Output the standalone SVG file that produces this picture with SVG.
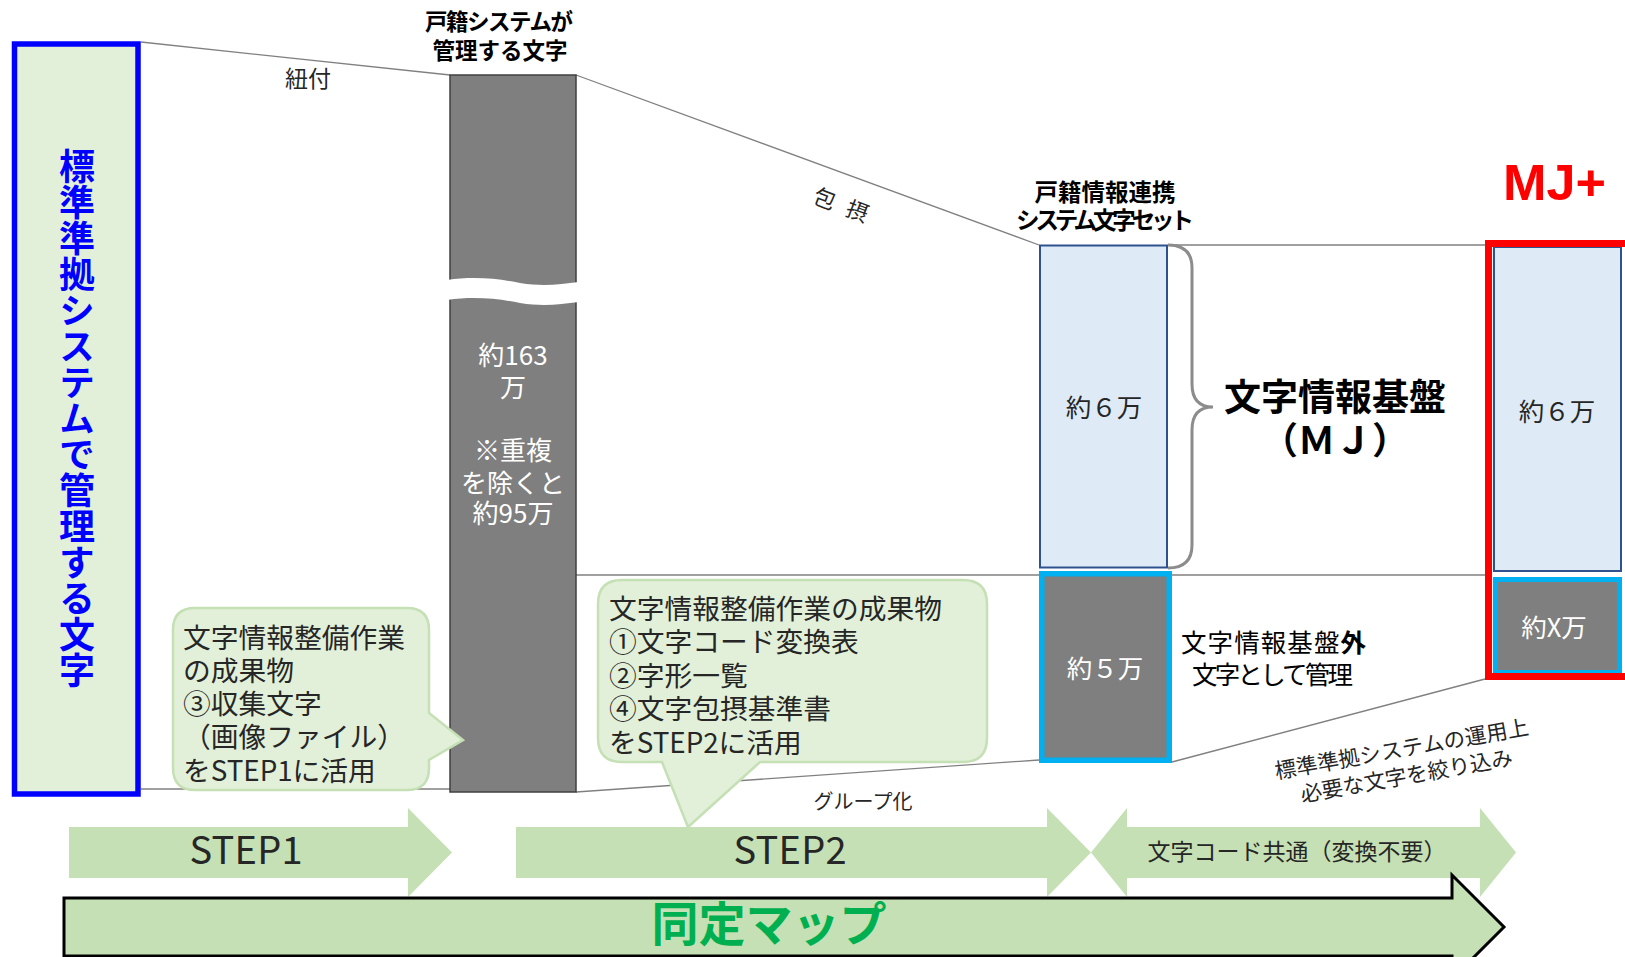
<svg xmlns="http://www.w3.org/2000/svg" width="1625" height="957" viewBox="0 0 1625 957">
<defs>
<style>
text{font-family:"Noto Sans CJK JP","Noto Sans",sans-serif;fill:#262626}
.ln{stroke:#808080;stroke-width:1.3;fill:none}
.call{fill:#E2F0D9;stroke:#C5E0B4;stroke-width:2.5}
.arr{fill:#C5E0B4}
.lb{fill:#DEEBF7;stroke:#2F528F;stroke-width:2}
.gb{fill:#7F7F7F;stroke:#00B0F0;stroke-width:5.5}
.w{fill:#FFFFFF}
.b{font-weight:bold}
.ct{font-size:27.75px}
.gt{font-size:26px;fill:#FFFFFF;text-anchor:middle}
.m{text-anchor:middle}
</style>
</defs>
<rect width="1625" height="957" fill="#FFFFFF"/>

<g id="connectors">
<line class="ln" x1="141" y1="42" x2="450" y2="75"/>
<line class="ln" x1="141" y1="789" x2="450" y2="789"/>
<line class="ln" x1="576" y1="75" x2="1039" y2="245"/>
<line class="ln" x1="1168" y1="245" x2="1488" y2="245"/>
<line class="ln" x1="576" y1="575" x2="1490" y2="575"/>
<line class="ln" x1="576" y1="792" x2="1039" y2="760"/>
<line class="ln" x1="1172" y1="762" x2="1485" y2="679"/>
<path d="M1168,245 Q1192,245 1192,268 L1192,384 Q1192,407 1213,407 Q1192,407 1192,430 L1192,545 Q1192,568 1168,568" fill="none" stroke="#8C8C8C" stroke-width="3"/>
<text x="308" y="86.5" class="m" style="font-size:23px">紐付</text>
<text transform="translate(841,205) rotate(21)" x="0" y="8" class="m" style="font-size:22px;word-spacing:8px">包 摂</text>
<text x="863" y="808.5" class="m" style="font-size:20px">グループ化</text>
<g transform="translate(1404,762) rotate(-10)">
<text x="0" y="-5.5" class="m" style="font-size:21.5px">標準準拠システムの運用上</text>
<text x="0" y="21.8" class="m" style="font-size:21.5px">必要な文字を絞り込み</text>
</g>
</g>

<g id="node-standard">
<rect x="14.5" y="44" width="123.5" height="750" fill="#E2F0D9" stroke="#0000FF" stroke-width="5.5"/>
<text x="77" y="148" class="b" style="font-size:36px;fill:#0000FF;writing-mode:vertical-rl">標準準拠システムで管理する文字</text>
</g>

<g id="node-koseki">
<text x="499" y="29.5" class="m b" style="font-size:22.5px;fill:#000" textLength="148" lengthAdjust="spacing">戸籍システムが</text>
<text x="500" y="58.5" class="m b" style="font-size:22.5px;fill:#000">管理する文字</text>
<rect x="450" y="75" width="126" height="717" fill="#7F7F7F" stroke="#404040" stroke-width="1.5"/>
<path d="M447,280 C475,276 500,279 520,283 C545,287 560,284 579,282 L579,302 C560,304 545,307 520,303 C500,299 475,296 447,300 Z" fill="#FFFFFF"/>
<text x="513" y="365" class="gt">約163</text>
<text x="513" y="397" class="gt">万</text>
<text x="513" y="460" class="gt">※重複</text>
<text x="513" y="493" class="gt">を除くと</text>
<text x="513" y="523" class="gt">約95万</text>
</g>

<g id="node-callout1">
<path class="call" d="M195,608 L407,608 Q429,608 429,630 L429,713 L463,740 L429,760 L429,768 Q429,790 407,790 L195,790 Q173,790 173,768 L173,630 Q173,608 195,608 Z"/>
<text x="183" y="647.5" class="ct">文字情報整備作業</text>
<text x="183" y="680.7" class="ct">の成果物</text>
<text x="183" y="714" class="ct">③収集文字</text>
<text x="183" y="747" class="ct">（画像ファイル）</text>
<text x="183" y="780.5" class="ct">をSTEP1に活用</text>
</g>

<g id="node-mj">
<text x="1105" y="201" class="m b" style="font-size:23.5px;fill:#000">戸籍情報連携</text>
<text x="1105" y="229" class="m b" style="font-size:23.5px;fill:#000" textLength="178" lengthAdjust="spacing">システム文字セット</text>
<rect class="lb" x="1040" y="245.5" width="127" height="322"/>
<text x="1104" y="416.5" class="m" style="font-size:25.5px">約６万</text>
<text x="1335" y="411" class="m b" style="font-size:37px;fill:#000">文字情報基盤</text>
<text x="1335" y="454" class="m b" style="font-size:37px;fill:#000">（ＭＪ）</text>
</g>

<g id="node-outside">
<rect class="gb" x="1041.75" y="573.75" width="127.5" height="186.5"/>
<text x="1105" y="678" class="m" style="font-size:25.5px;fill:#FFFFFF">約５万</text>
<text x="1273.5" y="651.7" class="m" style="font-size:25.5px;fill:#000" textLength="185" lengthAdjust="spacing">文字情報基盤<tspan class="b">外</tspan></text>
<text x="1272.5" y="684" class="m" style="font-size:25.5px;fill:#000" textLength="161" lengthAdjust="spacing">文字として管理</text>
</g>

<g id="node-mjplus">
<text x="1554.5" y="200" class="m b" style="font-family:'Liberation Sans',sans-serif;font-size:50px;fill:#FF0000" textLength="103" lengthAdjust="spacingAndGlyphs">MJ+</text>
<rect class="lb" x="1494" y="247" width="127" height="324"/>
<text x="1557" y="420.5" class="m" style="font-size:25.5px">約６万</text>
<rect class="gb" x="1495.5" y="579.5" width="124" height="93" style="stroke-width:5"/>
<text x="1554" y="637" class="m" style="font-size:25.5px;fill:#FFFFFF">約X万</text>
<rect x="1488.5" y="243.5" width="140" height="433" fill="none" stroke="#FF0000" stroke-width="7"/>
</g>

<g id="node-step1">
<polygon class="arr" points="69,827 408,827 408,808 452,852.5 408,897 408,878 69,878"/>
<text x="246" y="864" class="m" style="font-size:38px" textLength="113" lengthAdjust="spacing">STEP1</text>
</g>

<g id="node-step2">
<polygon class="arr" points="516,827 1047,827 1047,808 1091,852.5 1047,897 1047,878 516,878"/>
<text x="790" y="864" class="m" style="font-size:38px" textLength="113" lengthAdjust="spacing">STEP2</text>
</g>

<g id="node-common">
<polygon class="arr" points="1091,852.5 1127,808 1127,827 1480,827 1480,808 1516,852.5 1480,897 1480,878 1127,878 1127,897"/>
<text x="1297" y="860" class="m" style="font-size:23px">文字コード共通（変換不要）</text>
</g>

<g id="node-callout2">
<path class="call" d="M622,580 L963,580 Q987,580 987,604 L987,738 Q987,762 963,762 L760,762 L688,827 L662,762 L622,762 Q598,762 598,738 L598,604 Q598,580 622,580 Z"/>
<text x="609" y="618.5" class="ct">文字情報整備作業の成果物</text>
<text x="609" y="652" class="ct">①文字コード変換表</text>
<text x="609" y="685.5" class="ct">②字形一覧</text>
<text x="609" y="718.5" class="ct">④文字包摂基準書</text>
<text x="609" y="752.5" class="ct">をSTEP2に活用</text>
</g>

<g id="node-map">
<polygon points="64,898 1452,898 1452,875 1504,927 1452,979 1452,956 64,956" fill="#C5E0B4" stroke="#000000" stroke-width="3"/>
<text x="769" y="941" class="m b" style="font-size:47px;fill:#00B050">同定マップ</text>
</g>
</svg>
